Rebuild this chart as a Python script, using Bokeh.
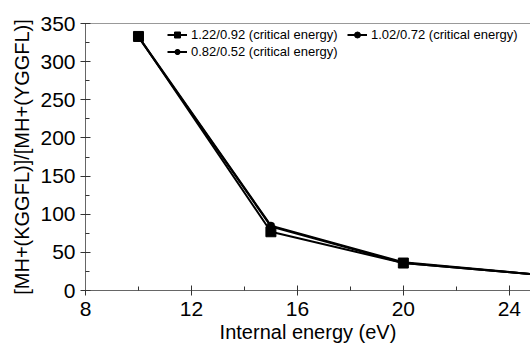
from bokeh.plotting import figure
from bokeh.models import FixedTicker, Range1d, LinearAxis, Legend, LegendItem
from bokeh.embed import file_html
from bokeh.resources import INLINE

energy = [10, 15, 20, 25]
s1_label = "1.22/0.92 (critical energy)"
s2_label = "1.02/0.72 (critical energy)"
s3_label = "0.82/0.52 (critical energy)"
s1 = [333, 77, 36, 21]
s2 = [333, 85, 37, 21]
s3 = [332, 84, 36, 21]
x_ticks = [8, 12, 16, 20, 24]
x_minor = [10, 14, 18, 22]
y_ticks = [0, 50, 100, 150, 200, 250, 300, 350]
y_minor = [25, 75, 125, 175, 225, 275, 325]

FONT = "Liberation Sans"

p = figure(width=530, height=345, output_backend="svg", toolbar_location=None,
           x_range=Range1d(8, 24.8), y_range=Range1d(0, 350),
           min_border_left=85, min_border_right=0, min_border_top=23, min_border_bottom=54)
p.outline_line_color = None
p.grid.visible = False
p.background_fill_color = "white"

r3l = p.line(energy, s3, line_color="black", line_width=2)
r3m = p.scatter(energy, s3, marker="asterisk", size=9, line_color="black", line_width=2)
r2l = p.line(energy, s2, line_color="black", line_width=2)
r2m = p.scatter(energy, s2, marker="circle", size=7, fill_color="black", line_color="black")
r1l = p.line(energy, s1, line_color="black", line_width=2)
r1m = p.scatter(energy, s1, marker="square", size=10, fill_color="black", line_color="black")

xa = p.xaxis[0]
xa.ticker = FixedTicker(ticks=x_ticks, minor_ticks=x_minor)
xa.axis_label = "Internal energy (eV)"
ya = p.yaxis[0]
ya.ticker = FixedTicker(ticks=y_ticks, minor_ticks=y_minor)
ya.axis_label = "[MH+(KGGFL)]/[MH+(YGGFL)]"

for ax in (xa, ya):
    ax.axis_line_color = "#666666"
    ax.axis_line_width = 1
    ax.major_tick_line_color = "#333333"
    ax.minor_tick_line_color = "#333333"
    ax.major_tick_in = 5
    ax.major_tick_out = 5
    ax.minor_tick_in = 4
    ax.minor_tick_out = 0
    ax.major_label_text_font = FONT
    ax.major_label_text_font_size = "21px"
    ax.major_label_text_color = "black"
    ax.axis_label_text_font = FONT
    ax.axis_label_text_font_size = "20px"
    ax.axis_label_text_font_style = "normal"
    ax.axis_label_text_color = "black"
xa.major_label_standoff = 6
xa.axis_label_standoff = 2
ya.major_label_standoff = 5
ya.axis_label_standoff = 4

top = LinearAxis(ticker=FixedTicker(ticks=[]), major_label_text_font_size="0px",
                 axis_line_color="#999999", major_tick_line_color=None, minor_tick_line_color=None)
p.add_layout(top, "above")


def make_legend(items, loc):
    lg = Legend(items=items, location=loc, orientation="vertical")
    lg.label_text_font = FONT
    lg.label_text_font_size = "13px"
    lg.label_text_color = "black"
    lg.background_fill_alpha = 0
    lg.border_line_color = None
    lg.glyph_width = 20
    lg.glyph_height = 15
    lg.label_height = 15
    lg.spacing = 2
    lg.padding = 0
    lg.label_standoff = 4
    lg.margin = 0
    return lg


leg1 = make_legend([
    LegendItem(label=s1_label, renderers=[r1l, r1m]),
    LegendItem(label=s3_label, renderers=[r3l, r3m]),
], (82, 231))
leg2 = make_legend([
    LegendItem(label=s2_label, renderers=[r2l, r2m]),
], (262, 248))
p.add_layout(leg1, "center")
p.add_layout(leg2, "center")

open("out.html", "w").write(file_html(p, INLINE))
